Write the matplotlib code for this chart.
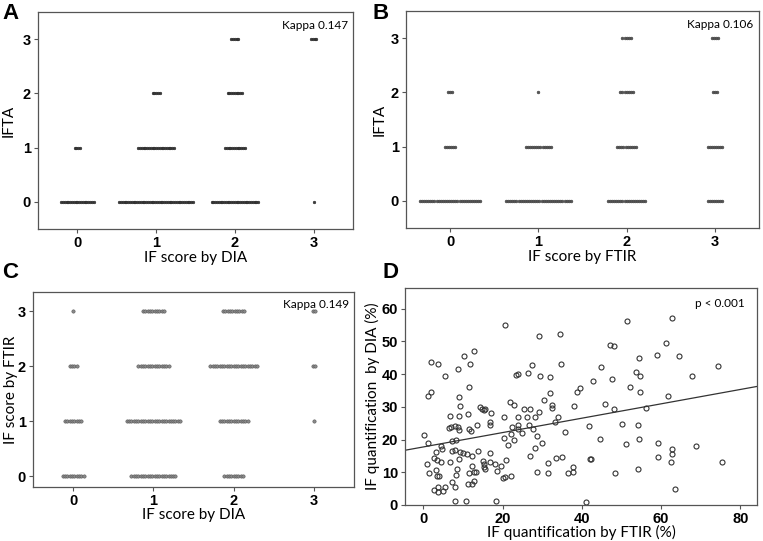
import numpy as np
import matplotlib
matplotlib.use("Agg")
import matplotlib.pyplot as plt

# ---------------- data ----------------
categories = [0, 1, 2, 3]
tick_labels = ["0", "1", "2", "3"]

# Panel A: rows = IFTA 0..3, columns = IF score by DIA 0..3 (counts)
counts_A = [[19, 42, 27, 1],
            [4, 21, 12, 0],
            [0, 5, 9, 0],
            [0, 0, 5, 4]]
# Panel B: rows = IFTA 0..3, columns = IF score by FTIR 0..3
counts_B = [[30, 32, 19, 8],
            [6, 13, 10, 8],
            [3, 1, 7, 3],
            [0, 0, 5, 4]]
# Panel C: rows = IF score by FTIR 0..3, columns = IF score by DIA 0..3
counts_C = [[10, 20, 9, 0],
            [8, 24, 13, 1],
            [4, 14, 21, 2],
            [1, 10, 10, 2]]

kappa_A = "Kappa 0.147"
kappa_B = "Kappa 0.106"
kappa_C = "Kappa 0.149"
p_text_D = "p < 0.001"

# Panel D: IF quantification by FTIR (%) vs by DIA (%)
ftir_pct = [0.2, 1.1, 1.3, 1.9, 1.9, 3.8, 1.0, 1.4, 2.7, 3.2, 3.4, 2.7, 3.6, 3.8, 3.5, 4.0,
            4.5, 3.2, 4.4, 4.7, 5.1, 5.6, 5.6, 6.7, 6.7, 6.5, 7.1, 7.2, 7.2, 7.2, 7.9, 7.9,
            7.9, 8.1, 8.3, 8.3, 8.6, 8.8, 8.9, 8.8, 9.0, 9.1, 9.3, 9.1, 9.3, 10.1, 10.2, 10.8,
            11.1, 11.3, 11.5, 11.5, 11.4, 11.8, 11.6, 12.0, 12.3, 12.3, 12.3, 12.9, 12.8, 12.9,
            13.2, 13.6, 13.7, 14.4, 14.8, 15.2, 15.3, 15.3, 15.6, 15.4, 15.7, 16.8, 16.8, 17.0,
            16.9, 16.8, 18.1, 18.3, 18.5, 19.6, 20.2, 20.6, 20.4, 20.4, 20.7, 20.9, 21.4, 22.2,
            22.0, 22.3, 22.1, 22.9, 23.0, 23.4, 23.9, 23.8, 23.8, 24.0, 24.8, 25.3, 26.2, 26.5,
            26.7, 26.9, 27.0, 27.5, 27.6, 28.2, 28.2, 28.8, 28.8, 29.1, 29.3, 29.5, 29.9, 30.5,
            31.4, 31.6, 31.9, 32.0, 32.5, 32.5, 33.3, 33.5, 33.9, 34.4, 34.8, 34.9, 35.8, 36.5,
            37.7, 37.9, 38.1, 38.7, 39.6, 41.1, 41.9, 42.1, 42.3, 42.9, 44.6, 44.8, 45.9, 47.0,
            48.0, 47.7, 48.0, 48.5, 50.2, 51.2, 51.5, 52.1, 53.6, 54.1, 54.3, 54.4, 54.5, 54.6,
            54.7, 56.3, 58.9, 59.2, 59.2, 61.3, 61.8, 62.7, 62.8, 62.8, 62.6, 63.4, 64.6, 67.7,
            68.8, 74.3, 75.4]
dia_pct = [21.4, 19.0, 33.2, 34.4, 43.7, 43.1, 12.4, 9.7, 14.5, 10.7, 13.8, 4.6, 5.4, 4.1, 9.0, 9.0,
           13.2, 16.3, 17.9, 17.0, 4.4, 5.6, 39.3, 13.0, 27.3, 23.5, 23.7, 16.5, 6.9, 19.7, 1.3, 5.4,
           16.8, 24.2, 20.0, 9.3, 11.0, 23.7, 23.0, 41.5, 27.2, 32.9, 30.1, 14.2, 16.2, 16.0, 45.6, 1.3,
           15.7, 27.9, 36.2, 9.9, 6.3, 43.0, 23.2, 22.6, 15.1, 11.9, 6.5, 46.9, 7.4, 10.2,
           10.2, 24.3, 16.5, 29.9, 29.3, 13.3, 12.6, 11.7, 11.0, 29.1, 29.3, 25.5, 24.5, 28.1,
           15.9, 13.2, 12.4, 1.3, 10.4, 11.9, 8.3, 8.5, 27.0, 20.4, 55.1, 13.6, 18.2, 9.0,
           31.6, 23.8, 21.6, 30.6, 20.0, 39.8, 40.0, 27.0, 24.5, 23.2, 22.1, 29.4, 26.8, 40.3,
           24.5, 29.4, 15.1, 42.7, 23.2, 27.0, 17.3, 21.2, 10.2, 51.7, 28.3, 39.3, 18.9, 32.1,
           9.9, 12.8, 39.0, 34.2, 30.6, 29.6, 25.3, 14.3, 27.0, 52.2, 43.2, 14.6, 22.4, 9.7,
           10.2, 11.7, 30.3, 34.5, 35.7, 0.8, 24.0, 14.0, 14.0, 37.8, 20.1, 42.3, 30.8, 48.9,
           48.7, 38.5, 29.3, 9.7, 24.7, 18.6, 56.1, 36.2, 40.6, 11.0, 24.5, 20.2, 45.0, 39.3,
           34.5, 29.6, 45.9, 18.9, 14.6, 49.4, 33.2, 57.1, 17.0, 15.6, 13.0, 4.9, 45.6, 39.5,
           18.1, 42.6, 13.0]
D_xticks = [0, 20, 40, 60, 80]
D_yticks = [0, 10, 20, 30, 40, 50, 60]

# ---------------- style ----------------
W, H = 763, 541
fig = plt.figure(figsize=(W / 100, H / 100), dpi=100)
fig.patch.set_facecolor("white")

TICK_FONT = dict(family="Liberation Sans", weight="bold", size=10.5)
LABEL_FONT = ["Lato", "DejaVu Sans"]
LABEL_SIZE = 11
SPINE_COLOR = "#555555"


def px_axes(left, top, right, bottom):
    return fig.add_axes([left / W, 1 - bottom / H, (right - left) / W, (bottom - top) / H])


def style_axes(ax):
    for s in ax.spines.values():
        s.set_color(SPINE_COLOR)
        s.set_linewidth(0.9)
    ax.tick_params(direction="out", length=3, width=0.8, color=SPINE_COLOR, pad=2)
    for lab in ax.get_xticklabels() + ax.get_yticklabels():
        lab.set_fontfamily(TICK_FONT["family"])
        lab.set_fontweight(TICK_FONT["weight"])
        lab.set_fontsize(TICK_FONT["size"])


def dot_panel(ax, counts, spacing, face, edge, msize, ylim):
    for r, row in enumerate(counts):
        for c, n in enumerate(row):
            if n == 0:
                continue
            xs = categories[c] + (np.arange(n) - (n - 1) / 2.0) * spacing
            ys = np.full(n, categories[r], dtype=float)
            ax.plot(xs, ys, "o", ms=msize, mfc=face, mec=edge, mew=0.4, linestyle="none")
    ax.set_xlim(-0.5, 3.5)
    ax.set_ylim(*ylim)
    ax.set_xticks(categories)
    ax.set_xticklabels(tick_labels)
    ax.set_yticks(categories)
    ax.set_yticklabels(tick_labels)
    style_axes(ax)


# Panel A
axA = px_axes(38, 12, 353, 229)
dot_panel(axA, counts_A, 0.0228, "#3a3a3a", "#2a2a2a", 1.9, (-0.5, 3.5))
axA.set_xlabel("IF score by DIA", family=LABEL_FONT, fontsize=LABEL_SIZE, labelpad=1)
axA.set_ylabel("IFTA", family=LABEL_FONT, fontsize=LABEL_SIZE, labelpad=5)
axA.text(0.985, 0.965, kappa_A, transform=axA.transAxes, ha="right", va="top",
         family=LABEL_FONT, fontsize=8.5)

# Panel B
axB = px_axes(406, 11, 759, 228)
dot_panel(axB, counts_B, 0.0237, "#555555", "#444444", 2.0, (-0.5, 3.5))
axB.set_xlabel("IF score by FTIR", family=LABEL_FONT, fontsize=LABEL_SIZE, labelpad=1)
axB.set_ylabel("IFTA", family=LABEL_FONT, fontsize=LABEL_SIZE, labelpad=3)
axB.text(0.985, 0.965, kappa_B, transform=axB.transAxes, ha="right", va="top",
         family=LABEL_FONT, fontsize=8.5)

# Panel C
axC = px_axes(33, 292, 354, 487)
dot_panel(axC, counts_C, 0.029, "#8a8a8a", "#555555", 2.4, (-0.2, 3.35))
axC.set_xlabel("IF score by DIA", family=LABEL_FONT, fontsize=LABEL_SIZE, labelpad=0)
axC.set_ylabel("IF score by FTIR", family=LABEL_FONT, fontsize=LABEL_SIZE, labelpad=0)
axC.text(0.985, 0.965, kappa_C, transform=axC.transAxes, ha="right", va="top",
         family=LABEL_FONT, fontsize=8.5)

# Panel D
axD = px_axes(405, 288, 757, 505)
axD.plot(ftir_pct, dia_pct, "o", ms=3.6, mfc="none", mec="#333333", mew=0.8, linestyle="none")
slope, intercept = np.polyfit(ftir_pct, dia_pct, 1)
xlim_D = (-4.6, 84.2)
xl = np.array(xlim_D)
axD.plot(xl, intercept + slope * xl, color="#333333", lw=0.9)
axD.set_xlim(*xlim_D)
axD.set_ylim(0, 66.3)
axD.set_xticks(D_xticks)
axD.set_yticks(D_yticks)
style_axes(axD)
axD.set_xlabel("IF quantification by FTIR (%)", family=LABEL_FONT, fontsize=LABEL_SIZE, labelpad=-1)
axD.set_ylabel("IF quantification  by DIA (%)", family=LABEL_FONT, fontsize=LABEL_SIZE, labelpad=1)
axD.text(0.965, 0.955, p_text_D, transform=axD.transAxes, ha="right", va="top",
         family=LABEL_FONT, fontsize=8.5)

# Panel letters
for letter, (x, y) in zip("ABCD", [(2, 3), (372, 3), (2, 262), (383, 262)]):
    fig.text(x / W, 1 - y / H, letter, ha="left", va="top",
             family="Liberation Sans", weight="bold", fontsize=16)

fig.savefig("out.png", dpi=100, facecolor="white")
